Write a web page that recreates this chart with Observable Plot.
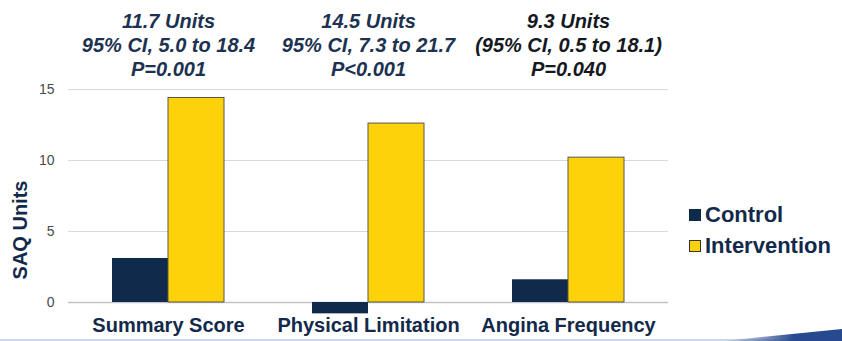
<!DOCTYPE html>
<html>
<head>
<meta charset="utf-8">
<script src="https://cdn.jsdelivr.net/npm/d3@7"></script>
<script src="https://cdn.jsdelivr.net/npm/@observablehq/plot@0.6"></script>
<style>
  html, body { margin: 0; padding: 0; background: #fff; }
  #wrap { position: relative; width: 842px; height: 341px; overflow: hidden; font-family: "Liberation Sans", Arial, sans-serif; }
  #legend { position: absolute; left: 689px; top: 199px; }
  #legend .row { display: flex; align-items: center; height: 31px; font-size: 22px; font-weight: bold; color: #13294b; }
  #legend .sw { width: 12px; height: 12px; margin-right: 4px; box-sizing: border-box; }
  #ylabel { position: absolute; left: 20px; top: 230px; transform: translate(-50%, -50%) rotate(-90deg);
    white-space: nowrap; font-size: 20px; font-weight: bold; color: #13294b; }
  #bottomline { position: absolute; left: 0; bottom: 0; width: 842px; height: 2px; background: #c9d6ee; }
  #swoosh { position: absolute; right: 0; bottom: 0; width: 120px; height: 12px;
    background: linear-gradient(to right, rgba(39,74,143,0), #274a8f 60%);
    clip-path: polygon(0 100%, 100% 0, 100% 100%); }
</style>
</head>
<body>
<div id="wrap">
  <div id="chart"></div>
  <div id="ylabel"></div>
  <div id="legend"></div>
  <div id="bottomline"></div>
  <div id="swoosh"></div>
</div>
<script>
const categories = ["Summary Score", "Physical Limitation", "Angina Frequency"];
const series = ["Control", "Intervention"];
const control = [3.1, -0.8, 1.6];
const intervention = [14.4, 12.6, 10.2];
const diffs = ["11.7 Units", "14.5 Units", "9.3 Units"];
const cis = ["95% CI, 5.0 to 18.4", "95% CI, 7.3 to 21.7", "(95% CI, 0.5 to 18.1)"];
const pvals = ["P=0.001", "P<0.001", "P=0.040"];
const yTicks = [0, 5, 10, 15];
const yLabel = "SAQ Units";
const colors = ["#0f2a4a", "#fdd20b"];

const rows = [];
categories.forEach((c, i) => {
  rows.push({category: c, series: series[0], value: control[i]});
  rows.push({category: c, series: series[1], value: intervention[i]});
});
const notes = categories.map((c, i) => ({category: c, text: [diffs[i], cis[i], pvals[i]].join("\n"), idx: i}));

const chart = Plot.plot({
  width: 842,
  height: 341,
  marginLeft: 68,
  marginRight: 174,
  marginTop: 89,
  marginBottom: 39,
  style: {fontFamily: "'Liberation Sans', Arial, sans-serif", overflow: "visible", background: "transparent"},
  fx: {domain: categories, paddingInner: 0, paddingOuter: 0, label: null},
  x: {domain: series, paddingInner: 0, paddingOuter: 0.755, axis: null},
  y: {domain: [0, 15], label: null},
  color: {domain: series, range: colors},
  marks: [
    Plot.gridY(yTicks, {stroke: "#d9d9d9", strokeOpacity: 1, strokeWidth: 1}),
    Plot.ruleY([0], {stroke: "#c4c4c4", strokeWidth: 1.5}),
    Plot.barY(rows, {
      fx: "category", x: "series", y: "value", fill: "series",
      stroke: d => d.series === "Intervention" ? "#5a5646" : "none",
      strokeWidth: 1, inset: 0
    }),
    Plot.axisY(yTicks, {tickSize: 0, tickPadding: 14, fontSize: 14, fill: "#4a4a4a", label: null}),
    Plot.axisFx({anchor: "bottom", tickSize: 0, tickPadding: 15, fontSize: 20, fontWeight: "bold", fill: "#13294b", label: null}),
    Plot.text(notes, {
      fx: "category", text: "text", frameAnchor: "top", lineAnchor: "bottom", dy: -14,
      lineHeight: 1.2, fontSize: 20, fontWeight: "bold", fontStyle: "italic",
      fill: d => d.idx === 2 ? "#15191f" : "#1c3250"
    })
  ]
});
document.getElementById("chart").appendChild(chart);
document.getElementById("ylabel").textContent = yLabel;

const legend = document.getElementById("legend");
series.forEach((s, i) => {
  const row = document.createElement("div");
  row.className = "row";
  const sw = document.createElement("div");
  sw.className = "sw";
  sw.style.background = colors[i];
  if (i === 1) sw.style.border = "1px solid #333";
  const t = document.createElement("span");
  t.textContent = s;
  row.appendChild(sw);
  row.appendChild(t);
  legend.appendChild(row);
});
</script>
</body>
</html>
